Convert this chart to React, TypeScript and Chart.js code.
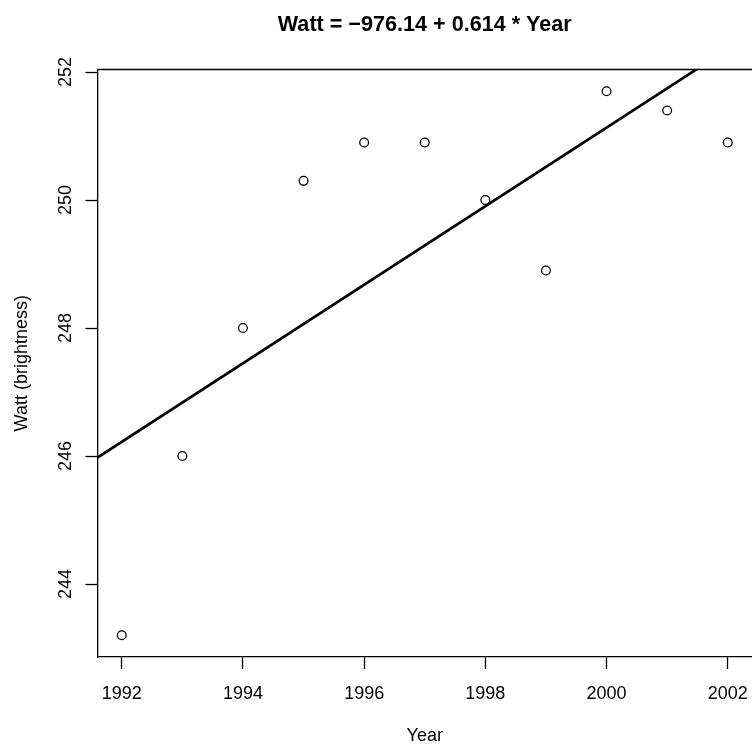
import React, { useEffect, useRef } from "react";
import { Chart, registerables } from "chart.js";

Chart.register(...registerables);

const years = [1992, 1993, 1994, 1995, 1996, 1997, 1998, 1999, 2000, 2001, 2002];
const watt = [243.2, 246.0, 248.0, 250.3, 250.9, 250.9, 250.0, 248.9, 251.7, 251.4, 250.9];
const xTicks = [1992, 1994, 1996, 1998, 2000, 2002];
const yTicks = [244, 246, 248, 250, 252];
const titleText = "Watt = \u2212976.14 + 0.614 * Year";
const xTitle = "Year";
const yTitle = "Watt (brightness)";

const FONT = "'Liberation Sans', Arial, Helvetica, sans-serif";

function fit(xs: number[], ys: number[]) {
  const n = xs.length;
  const mx = xs.reduce((a, b) => a + b, 0) / n;
  const my = ys.reduce((a, b) => a + b, 0) / n;
  let sxy = 0, sxx = 0;
  for (let i = 0; i < n; i++) {
    sxy += (xs[i] - mx) * (ys[i] - my);
    sxx += (xs[i] - mx) * (xs[i] - mx);
  }
  const b = sxy / sxx;
  return { a: my - b * mx, b };
}

function rRange(v: number[]) {
  const mn = Math.min(...v), mx = Math.max(...v);
  const d = (mx - mn) * 0.04;
  return [mn - d, mx + d];
}

export default function App() {
  const ref = useRef<HTMLCanvasElement | null>(null);
  useEffect(() => {
    if (!ref.current) return;
    const [xMin, xMax] = rRange(years);
    const [yMin, yMax] = rRange(watt);
    const { a, b } = fit(years, watt);
    const lineData = [
      { x: xMin, y: a + b * xMin },
      { x: xMax, y: a + b * xMax },
    ];

    const labelsPlugin = {
      id: "rlabels",
      afterDraw(chart: any) {
        const ctx = chart.ctx;
        const area = chart.chartArea;
        const xs = chart.scales.x;
        const ys = chart.scales.y;
        ctx.save();
        ctx.strokeStyle = "#000";
        ctx.lineWidth = 1.3;
        ctx.beginPath();
        ctx.moveTo(area.left, area.top);
        ctx.lineTo(area.right + 2, area.top);
        ctx.stroke();
        ctx.fillStyle = "#000";
        ctx.font = `18px ${FONT}`;
        ctx.textAlign = "center";
        ctx.textBaseline = "alphabetic";
        xTicks.forEach((v) => {
          ctx.fillText(String(v), xs.getPixelForValue(v), 699);
        });
        yTicks.forEach((v) => {
          ctx.save();
          ctx.translate(70.5, ys.getPixelForValue(v));
          ctx.rotate(-Math.PI / 2);
          ctx.fillText(String(v), 0, 0);
          ctx.restore();
        });
        ctx.fillText(xTitle, (area.left + area.right) / 2, 741);
        ctx.save();
        ctx.translate(26.5, (area.top + area.bottom) / 2);
        ctx.rotate(-Math.PI / 2);
        ctx.fillText(yTitle, 0, 0);
        ctx.restore();
        ctx.font = `bold 21.6px ${FONT}`;
        ctx.fillText(titleText, (area.left + area.right) / 2, 31);
        ctx.restore();
      },
    };

    const chart = new Chart(ref.current, {
      type: "scatter",
      data: {
        datasets: [
          {
            type: "scatter",
            data: years.map((x, i) => ({ x, y: watt[i] })),
            pointStyle: "circle",
            pointRadius: 4.4,
            pointBorderWidth: 1.3,
            borderColor: "#000",
            backgroundColor: "rgba(0,0,0,0)",
            pointBackgroundColor: "rgba(0,0,0,0)",
            pointBorderColor: "#000",
          } as any,
          {
            type: "line",
            data: lineData,
            borderColor: "#000",
            borderWidth: 2.7,
            pointRadius: 0,
            fill: false,
            clip: 0,
          } as any,
        ],
      },
      plugins: [labelsPlugin],
      options: {
        responsive: false,
        animation: false,
        events: [],
        layout: { autoPadding: false, padding: { left: 85.5, top: 69.5, right: 0, bottom: 77 } },
        plugins: {
          legend: { display: false },
          tooltip: { enabled: false },
          title: { display: false },
        },
        scales: {
          x: {
            type: "linear",
            min: xMin,
            max: xMax,
            afterBuildTicks: (s: any) => {
              s.ticks = xTicks.map((v) => ({ value: v }));
            },
            afterFit: (s: any) => {
              s.height = 12;
            },
            ticks: { display: false },
            grid: {
              display: true,
              drawOnChartArea: false,
              drawTicks: true,
              tickLength: 12,
              tickColor: "#000",
              tickWidth: 1.3,
            },
            border: { display: true, color: "#000", width: 1.3 },
          },
          y: {
            type: "linear",
            min: yMin,
            max: yMax,
            afterBuildTicks: (s: any) => {
              s.ticks = yTicks.map((v) => ({ value: v }));
            },
            afterFit: (s: any) => {
              s.width = 12;
            },
            ticks: { display: false },
            grid: {
              display: true,
              drawOnChartArea: false,
              drawTicks: true,
              tickLength: 12,
              tickColor: "#000",
              tickWidth: 1.3,
            },
            border: { display: true, color: "#000", width: 1.3 },
          },
        },
      } as any,
    });
    return () => chart.destroy();
  }, []);

  return (
    <div style={{ position: "fixed", left: 0, top: 0, width: 752, height: 746, background: "#fff" }}>
      <canvas ref={ref} width={752} height={746} style={{ width: 752, height: 746, display: "block" }} />
    </div>
  );
}
